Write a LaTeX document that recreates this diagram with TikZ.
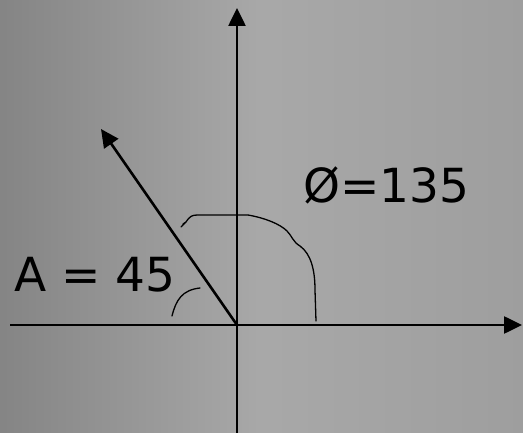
\documentclass[tikz,border=0pt]{standalone}
\usepackage{fontspec}
\setmainfont{DejaVu Sans}
\usetikzlibrary{arrows.meta,positioning}

\begin{document}
\begin{tikzpicture}[
    x=1pt, y=-1pt,
    >={Triangle[length=18pt,width=17pt]},
    axis/.style={
        ->,
        line width=2.6pt,
        draw=black
    },
    pen/.style={
        line width=1.3pt,
        draw=black,
        line cap=round,
        line join=round
    },
    lbl/.style={
        font=\fontsize{47}{50}\selectfont,
        inner sep=0pt,
        anchor=base west,
        text=black
    }
]

% ---- Background (grey paper) ----
\shade[left color=black!48, right color=black!38, middle color=black!34]
    (0,0) rectangle (523,433);
\useasboundingbox (0,0) rectangle (523,433);

% ---- Axes ----
\coordinate (orig)  at (237,325);
\coordinate (xleft) at (10,325);
\coordinate (xend)  at (522,325);
\coordinate (ybot)  at (237,433);
\coordinate (yend)  at (237,8);
\coordinate (vtip)  at (101,129);

\draw[axis] (xleft) -- (xend);
\draw[axis] (ybot) -- (yend);

% ---- Vector ----
\draw[axis] (orig) -- (vtip);

% ---- Hand-drawn angle marks ----
\draw[pen] (181,227) -- (186,222) -- (183,224) (186,222)
    .. controls (190,216) and (192,215) .. (198,215)
    -- (248,215)
    .. controls (265,218) and (280,224) .. (287,231)
    .. controls (292,236) and (293,242) .. (300,246)
    .. controls (311,254) and (315,270) .. (315,290)
    -- (316,321);
\draw[pen] (172,316) .. controls (176,300) and (182,290) .. (200,288);

% ---- Labels ----
\node[lbl] (alabel) at (14,292) {A =\ 45};
\node[lbl] (plabel) at (303,203) {Ø=135};

\end{tikzpicture}
\end{document}
